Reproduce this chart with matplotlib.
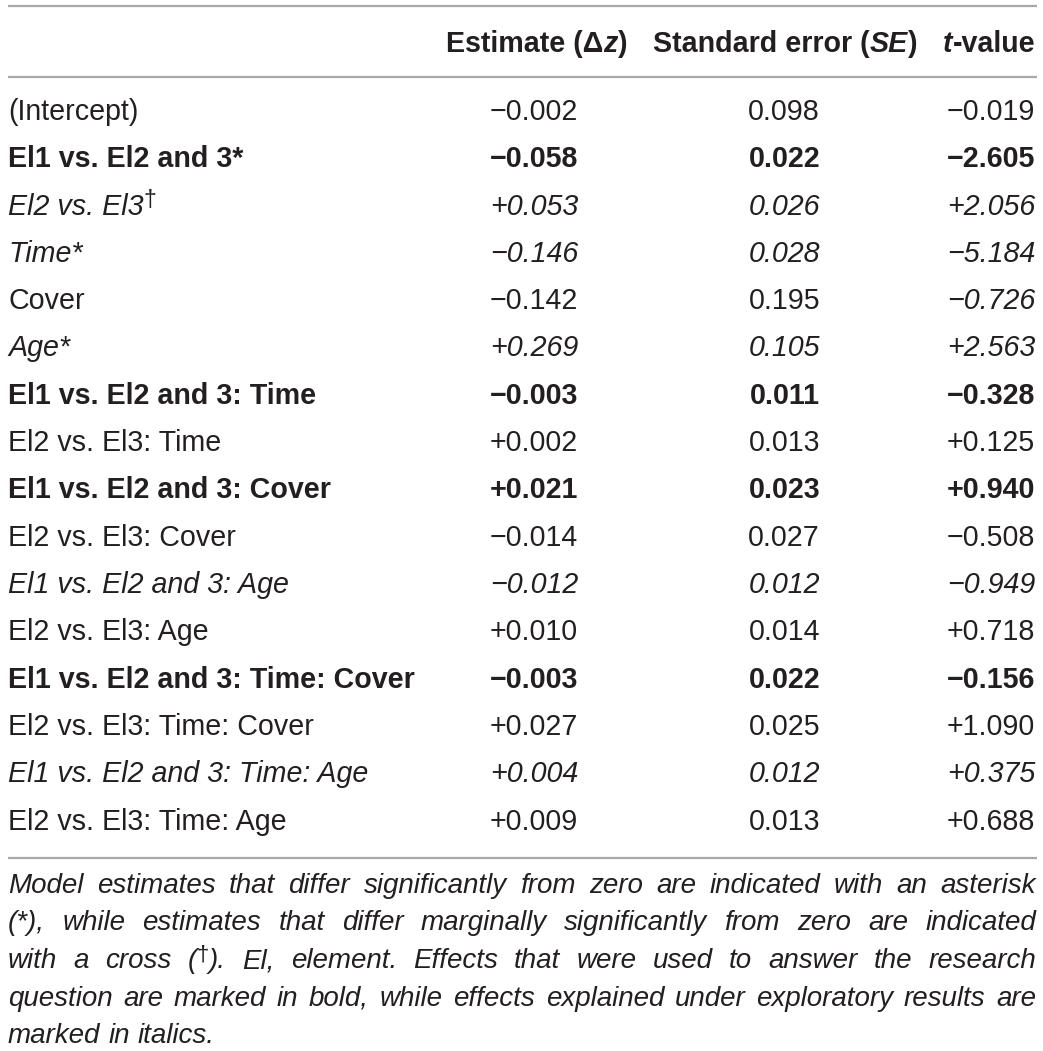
import matplotlib
matplotlib.use("Agg")
import matplotlib.pyplot as plt

# table content
labels = ["(Intercept)", "El1 vs. El2 and 3*", "El2 vs. El3", "Time*", "Cover", "Age*",
          "El1 vs. El2 and 3: Time", "El2 vs. El3: Time", "El1 vs. El2 and 3: Cover",
          "El2 vs. El3: Cover", "El1 vs. El2 and 3: Age", "El2 vs. El3: Age",
          "El1 vs. El2 and 3: Time: Cover", "El2 vs. El3: Time: Cover",
          "El1 vs. El2 and 3: Time: Age", "El2 vs. El3: Time: Age"]
label_sup = ["", "", "\u2020", "", "", "", "", "", "", "", "", "", "", "", "", ""]
estimates = ["\u22120.002", "\u22120.058", "+0.053", "\u22120.146", "\u22120.142", "+0.269",
             "\u22120.003", "+0.002", "+0.021", "\u22120.014", "\u22120.012", "+0.010",
             "\u22120.003", "+0.027", "+0.004", "+0.009"]
std_errors = ["0.098", "0.022", "0.026", "0.028", "0.195", "0.105", "0.011", "0.013",
              "0.023", "0.027", "0.012", "0.014", "0.022", "0.025", "0.012", "0.013"]
t_values = ["\u22120.019", "\u22122.605", "+2.056", "\u22125.184", "\u22120.726", "+2.563",
            "\u22120.328", "+0.125", "+0.940", "\u22120.508", "\u22120.949", "+0.718",
            "\u22120.156", "+1.090", "+0.375", "+0.688"]
# style of label, estimate, SE, t-value for each row
row_styles = ["normal", "bold", "italic", "italic", "normal", "italic", "bold", "normal",
              "bold", "normal", "italic", "normal", "bold", "normal", "italic", "normal"]
t_style_override = {4: "italic"}

footnote_lines = [
    "Model estimates that differ significantly from zero are indicated with an asterisk",
    "(*), while estimates that differ marginally significantly from zero are indicated",
    "with a cross (\u2020). El, element. Effects that were used to answer the research",
    "question are marked in bold, while effects explained under exploratory results are",
    "marked in italics.",
]

TXT = "#231f20"
RULE = "#a8a8a8"
FONT = "Liberation Sans"
FS = 20.6
FS_NOTE = 20

fig = plt.figure(figsize=(10.43, 10.51), dpi=100)
ax = fig.add_axes([0, 0, 1, 1])
ax.set_xlim(0, 1043)
ax.set_ylim(1051, 0)
ax.axis("off")
renderer = fig.canvas.get_renderer()


def props(style, size):
    d = dict(family=FONT, fontsize=size, color=TXT, va="baseline", ha="left")
    if "bold" in style:
        d["fontweight"] = "bold"
    if "italic" in style:
        d["fontstyle"] = "italic"
    return d


def seg_width(text, style, size):
    t = ax.text(0, 0, text, **props(style, size))
    w = t.get_window_extent(renderer).width
    t.remove()
    return w


def draw_segs(x, y, segs, align="left"):
    # segs: list of (text, style, size, rise)
    widths = [seg_width(s[0], s[1], s[2]) for s in segs]
    if align == "right":
        x = x - sum(widths)
    for (text, style, size, rise), w in zip(segs, widths):
        ax.text(x, y - rise, text, **props(style, size))
        x += w
    return sum(widths)


LEFT, RIGHT = 8, 1037
col_right = [578, 820, 1035]

# rules
for yy in [6, 77, 858]:
    ax.hlines(yy, LEFT, RIGHT, color=RULE, lw=1.6)

# header
hy = 52
draw_segs(627, hy, [("Estimate (\u0394", "bold", FS, 0), ("z", "bold italic", FS, 0),
                    (")", "bold", FS, 0)], "right")
draw_segs(917, hy, [("Standard error (", "bold", FS, 0), ("SE", "bold italic", FS, 0),
                    (")", "bold", FS, 0)], "right")
draw_segs(1035, hy, [("t", "bold italic", FS, 0), ("-value", "bold", FS, 0)], "right")

# body rows
for i, lab in enumerate(labels):
    y = 120 + 47.3 * i
    st = row_styles[i]
    segs = [(lab, st, FS, 0)]
    if label_sup[i]:
        segs.append((label_sup[i], "normal", FS * 0.8, 8))
    draw_segs(LEFT, y, segs)
    draw_segs(col_right[0], y, [(estimates[i], st, FS, 0)], "right")
    draw_segs(col_right[1], y, [(std_errors[i], st, FS, 0)], "right")
    draw_segs(col_right[2], y, [(t_values[i], t_style_override.get(i, st), FS, 0)], "right")

# footnote, justified
for j, line in enumerate(footnote_lines):
    y = 893 + 37.5 * j
    words = []
    for w in line.split(" "):
        if "\u2020" in w:
            a, b = w.split("\u2020")
            words.append([(a, "italic", FS_NOTE, 0), ("\u2020", "normal", FS_NOTE * 0.8, 8),
                          (b, "italic", FS_NOTE, 0)])
        else:
            words.append([(w, "italic", FS_NOTE, 0)])
    widths = [sum(seg_width(s[0], s[1], s[2]) for s in wd) for wd in words]
    if j < len(footnote_lines) - 1:
        gap = (1036 - LEFT - sum(widths)) / (len(words) - 1)
    else:
        gap = seg_width("a b", "italic", FS_NOTE) - seg_width("ab", "italic", FS_NOTE)
    x = LEFT
    for wd, w in zip(words, widths):
        draw_segs(x, y, wd)
        x += w + gap

fig.savefig("out.png", dpi=100)
